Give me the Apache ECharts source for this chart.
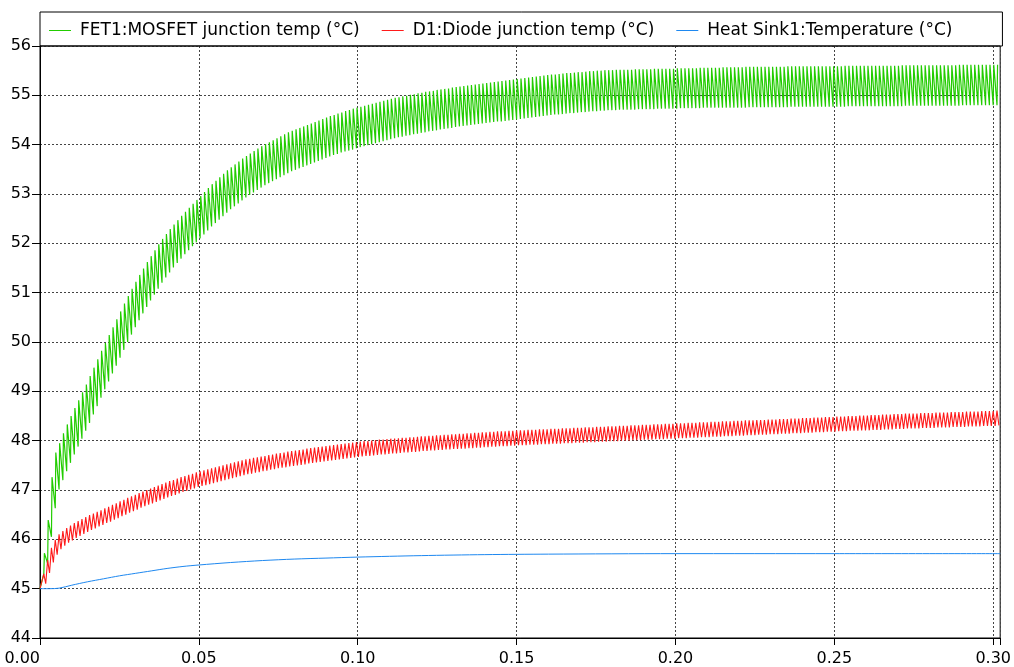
<!DOCTYPE html>
<html>
<head>
<meta charset="utf-8">
<script src="https://cdn.jsdelivr.net/npm/echarts@6/dist/echarts.min.js"></script>
<style>
  html, body { margin: 0; padding: 0; background: #fff; }
  #chart { width: 1014px; height: 667px; }
</style>
</head>
<body>
<div id="chart"></div>
<script>
// switching period of the simulation (s); one high/low pair per cycle
const PERIOD = 0.0012

const seriesNames = [
  'FET1:MOSFET junction temp (°C)',
  'D1:Diode junction temp (°C)',
  'Heat Sink1:Temperature (°C)'
]

// FET1 junction temp: value just before each turn-on, and peak right after it
const fetLow = [
  45.00, 45.30, 45.51, 46.05, 46.63, 47.01, 47.20, 47.38, 47.55, 47.72, 47.88, 48.04,
  48.20, 48.36, 48.53, 48.70, 48.87, 49.04, 49.20, 49.36, 49.52, 49.68, 49.84, 50.00,
  50.15, 50.30, 50.44, 50.58, 50.71, 50.84, 50.96, 51.08, 51.20, 51.31, 51.41, 51.51,
  51.60, 51.69, 51.78, 51.86, 51.94, 52.02, 52.10, 52.18, 52.26, 52.34, 52.41, 52.48,
  52.55, 52.62, 52.69, 52.75, 52.81, 52.87, 52.93, 52.98, 53.03, 53.08, 53.13, 53.18,
  53.22, 53.26, 53.30, 53.34, 53.38, 53.42, 53.46, 53.49, 53.52, 53.55, 53.58, 53.61,
  53.64, 53.67, 53.70, 53.73, 53.76, 53.79, 53.81, 53.84, 53.86, 53.88, 53.90, 53.93,
  53.95, 53.97, 53.99, 54.01, 54.03, 54.05, 54.07, 54.09, 54.11, 54.13, 54.15, 54.16,
  54.18, 54.19, 54.21, 54.22, 54.24, 54.25, 54.27, 54.28, 54.29, 54.31, 54.32, 54.33,
  54.34, 54.36, 54.37, 54.38, 54.39, 54.40, 54.41, 54.42, 54.43, 54.44, 54.45, 54.46,
  54.47, 54.47, 54.48, 54.49, 54.50, 54.51, 54.52, 54.53, 54.54, 54.55, 54.56, 54.57,
  54.58, 54.59, 54.60, 54.61, 54.61, 54.62, 54.63, 54.64, 54.64, 54.65, 54.66, 54.66,
  54.67, 54.68, 54.68, 54.69, 54.69, 54.70, 54.70, 54.70, 54.71, 54.71, 54.71, 54.71,
  54.71, 54.72, 54.72, 54.72, 54.72, 54.72, 54.73, 54.73, 54.73, 54.73, 54.73, 54.73,
  54.74, 54.74, 54.74, 54.74, 54.74, 54.74, 54.75, 54.75, 54.75, 54.75, 54.75, 54.75,
  54.75, 54.75, 54.75, 54.75, 54.75, 54.75, 54.76, 54.76, 54.76, 54.76, 54.76, 54.76,
  54.76, 54.76, 54.76, 54.76, 54.76, 54.77, 54.77, 54.77, 54.77, 54.77, 54.77, 54.77,
  54.77, 54.77, 54.77, 54.77, 54.77, 54.77, 54.77, 54.77, 54.78, 54.78, 54.78, 54.78,
  54.78, 54.78, 54.78, 54.78, 54.78, 54.78, 54.78, 54.78, 54.78, 54.78, 54.78, 54.79,
  54.79, 54.79, 54.79, 54.79, 54.79, 54.79, 54.79, 54.79, 54.79, 54.79, 54.79, 54.79,
  54.79, 54.79, 54.80, 54.80, 54.80, 54.80, 54.80, 54.80, 54.80, 54.80, 54.80, 54.80
]
const fetHigh = [
  45.00, 45.72, 46.39, 47.26, 47.76, 47.95, 48.15, 48.33, 48.50, 48.66, 48.82, 48.98,
  49.14, 49.31, 49.48, 49.65, 49.82, 49.98, 50.14, 50.30, 50.46, 50.62, 50.78, 50.93,
  51.08, 51.22, 51.36, 51.49, 51.62, 51.74, 51.86, 51.98, 52.09, 52.19, 52.29, 52.38,
  52.47, 52.56, 52.64, 52.72, 52.80, 52.88, 52.96, 53.04, 53.12, 53.20, 53.27, 53.34,
  53.41, 53.48, 53.54, 53.60, 53.66, 53.72, 53.77, 53.82, 53.87, 53.92, 53.97, 54.01,
  54.05, 54.09, 54.13, 54.17, 54.21, 54.25, 54.28, 54.31, 54.34, 54.37, 54.40, 54.43,
  54.46, 54.49, 54.52, 54.55, 54.58, 54.60, 54.63, 54.65, 54.68, 54.70, 54.73, 54.75,
  54.77, 54.79, 54.81, 54.83, 54.85, 54.87, 54.89, 54.91, 54.93, 54.95, 54.96, 54.98,
  54.99, 55.01, 55.02, 55.04, 55.05, 55.07, 55.08, 55.09, 55.11, 55.12, 55.13, 55.14,
  55.16, 55.17, 55.18, 55.19, 55.20, 55.21, 55.22, 55.23, 55.24, 55.25, 55.26, 55.27,
  55.28, 55.29, 55.30, 55.31, 55.32, 55.33, 55.34, 55.35, 55.36, 55.37, 55.38, 55.39,
  55.40, 55.41, 55.42, 55.42, 55.43, 55.44, 55.45, 55.45, 55.46, 55.47, 55.47, 55.48,
  55.49, 55.49, 55.50, 55.50, 55.51, 55.51, 55.51, 55.52, 55.52, 55.52, 55.52, 55.52,
  55.53, 55.53, 55.53, 55.53, 55.53, 55.54, 55.54, 55.54, 55.54, 55.54, 55.54, 55.55,
  55.55, 55.55, 55.55, 55.55, 55.55, 55.56, 55.56, 55.56, 55.56, 55.56, 55.56, 55.57,
  55.57, 55.57, 55.57, 55.57, 55.57, 55.58, 55.58, 55.58, 55.58, 55.58, 55.58, 55.58,
  55.58, 55.58, 55.58, 55.58, 55.59, 55.59, 55.59, 55.59, 55.59, 55.59, 55.59, 55.59,
  55.59, 55.59, 55.59, 55.59, 55.59, 55.59, 55.59, 55.60, 55.60, 55.60, 55.60, 55.60,
  55.60, 55.60, 55.60, 55.60, 55.60, 55.60, 55.60, 55.60, 55.60, 55.60, 55.61, 55.61,
  55.61, 55.61, 55.61, 55.61, 55.61, 55.61, 55.61, 55.61, 55.61, 55.61, 55.61, 55.61,
  55.61, 55.62, 55.62, 55.62, 55.62, 55.62, 55.62, 55.62, 55.62, 55.62, 55.62, 55.62
]

// D1 junction temp: peak at each turn-on, trough half a cycle later
const diodeHigh = [
  45.00, 45.30, 45.58, 45.83, 45.99, 46.10, 46.17, 46.23, 46.28, 46.33, 46.37, 46.41,
  46.45, 46.49, 46.52, 46.56, 46.59, 46.63, 46.66, 46.70, 46.73, 46.77, 46.80, 46.84,
  46.87, 46.90, 46.94, 46.97, 47.00, 47.03, 47.06, 47.09, 47.12, 47.15, 47.18, 47.20,
  47.23, 47.26, 47.28, 47.31, 47.33, 47.36, 47.38, 47.40, 47.42, 47.44, 47.46, 47.48,
  47.50, 47.52, 47.54, 47.56, 47.58, 47.60, 47.62, 47.63, 47.65, 47.66, 47.68, 47.69,
  47.71, 47.72, 47.74, 47.75, 47.76, 47.78, 47.79, 47.80, 47.81, 47.82, 47.84, 47.85,
  47.86, 47.87, 47.88, 47.89, 47.90, 47.91, 47.92, 47.93, 47.94, 47.95, 47.96, 47.97,
  47.98, 47.99, 47.99, 48.00, 48.01, 48.02, 48.02, 48.03, 48.04, 48.04, 48.05, 48.06,
  48.06, 48.07, 48.07, 48.08, 48.09, 48.09, 48.10, 48.10, 48.11, 48.11, 48.12, 48.12,
  48.13, 48.13, 48.14, 48.14, 48.15, 48.15, 48.16, 48.16, 48.17, 48.17, 48.18, 48.18,
  48.19, 48.19, 48.19, 48.20, 48.20, 48.21, 48.21, 48.21, 48.22, 48.22, 48.22, 48.23,
  48.23, 48.23, 48.24, 48.24, 48.24, 48.25, 48.25, 48.25, 48.26, 48.26, 48.26, 48.27,
  48.27, 48.27, 48.28, 48.28, 48.28, 48.29, 48.29, 48.29, 48.30, 48.30, 48.30, 48.31,
  48.31, 48.31, 48.32, 48.32, 48.32, 48.33, 48.33, 48.33, 48.34, 48.34, 48.34, 48.35,
  48.35, 48.35, 48.36, 48.36, 48.36, 48.37, 48.37, 48.37, 48.38, 48.38, 48.38, 48.39,
  48.39, 48.39, 48.40, 48.40, 48.40, 48.41, 48.41, 48.41, 48.42, 48.42, 48.42, 48.43,
  48.43, 48.43, 48.44, 48.44, 48.44, 48.45, 48.45, 48.45, 48.46, 48.46, 48.46, 48.47,
  48.47, 48.47, 48.48, 48.48, 48.48, 48.49, 48.49, 48.49, 48.50, 48.50, 48.50, 48.51,
  48.51, 48.51, 48.52, 48.52, 48.52, 48.53, 48.53, 48.53, 48.54, 48.54, 48.54, 48.55,
  48.55, 48.55, 48.55, 48.56, 48.56, 48.56, 48.56, 48.57, 48.57, 48.57, 48.57, 48.58,
  48.58, 48.58, 48.58, 48.59, 48.59, 48.59, 48.59, 48.60, 48.60, 48.60, 48.60, 48.61
]
const diodeLow = [
  45.00, 45.10, 45.32, 45.53, 45.69, 45.80, 45.87, 45.93, 45.98, 46.03, 46.07, 46.11,
  46.15, 46.19, 46.22, 46.26, 46.29, 46.33, 46.36, 46.40, 46.43, 46.47, 46.50, 46.54,
  46.57, 46.60, 46.64, 46.67, 46.70, 46.73, 46.76, 46.79, 46.82, 46.85, 46.88, 46.90,
  46.93, 46.96, 46.98, 47.01, 47.03, 47.06, 47.08, 47.10, 47.12, 47.14, 47.16, 47.18,
  47.20, 47.22, 47.24, 47.26, 47.28, 47.30, 47.32, 47.33, 47.35, 47.36, 47.38, 47.39,
  47.41, 47.42, 47.44, 47.45, 47.46, 47.48, 47.49, 47.50, 47.51, 47.52, 47.54, 47.55,
  47.56, 47.57, 47.58, 47.59, 47.60, 47.61, 47.62, 47.63, 47.64, 47.65, 47.66, 47.67,
  47.68, 47.69, 47.69, 47.70, 47.71, 47.72, 47.72, 47.73, 47.74, 47.74, 47.75, 47.76,
  47.76, 47.77, 47.77, 47.78, 47.79, 47.79, 47.80, 47.80, 47.81, 47.81, 47.82, 47.82,
  47.83, 47.83, 47.84, 47.84, 47.85, 47.85, 47.86, 47.86, 47.87, 47.87, 47.88, 47.88,
  47.89, 47.89, 47.89, 47.90, 47.90, 47.91, 47.91, 47.91, 47.92, 47.92, 47.92, 47.93,
  47.93, 47.93, 47.94, 47.94, 47.94, 47.95, 47.95, 47.95, 47.96, 47.96, 47.96, 47.97,
  47.97, 47.97, 47.98, 47.98, 47.98, 47.99, 47.99, 47.99, 48.00, 48.00, 48.00, 48.01,
  48.01, 48.01, 48.02, 48.02, 48.02, 48.03, 48.03, 48.03, 48.04, 48.04, 48.04, 48.05,
  48.05, 48.05, 48.06, 48.06, 48.06, 48.07, 48.07, 48.07, 48.08, 48.08, 48.08, 48.09,
  48.09, 48.09, 48.10, 48.10, 48.10, 48.11, 48.11, 48.11, 48.12, 48.12, 48.12, 48.13,
  48.13, 48.13, 48.14, 48.14, 48.14, 48.15, 48.15, 48.15, 48.16, 48.16, 48.16, 48.17,
  48.17, 48.17, 48.18, 48.18, 48.18, 48.19, 48.19, 48.19, 48.20, 48.20, 48.20, 48.21,
  48.21, 48.21, 48.22, 48.22, 48.22, 48.23, 48.23, 48.23, 48.24, 48.24, 48.24, 48.25,
  48.25, 48.25, 48.25, 48.26, 48.26, 48.26, 48.26, 48.27, 48.27, 48.27, 48.27, 48.28,
  48.28, 48.28, 48.28, 48.29, 48.29, 48.29, 48.29, 48.30, 48.30, 48.30, 48.30, 48.31
]

// Heat sink temperature (smooth)
const sinkTime = [0, 0.003, 0.006, 0.010, 0.015, 0.020, 0.025, 0.030, 0.035, 0.040, 0.045, 0.050,
  0.060, 0.070, 0.080, 0.090, 0.100, 0.120, 0.140, 0.160, 0.200, 0.250, 0.3022]
const sinkTemp = [45.00, 45.00, 45.01, 45.07, 45.14, 45.20, 45.26, 45.31, 45.36, 45.41, 45.45, 45.48,
  45.53, 45.57, 45.60, 45.62, 45.64, 45.67, 45.69, 45.70, 45.71, 45.71, 45.71]

const xTicks = { min: 0, max: 0.3022, step: 0.05 }
const yTicks = { min: 44, max: 56, step: 1 }

// build [t, value] pairs for the oscillating traces
const fetData = []
fetLow.forEach((v, k) => {
  fetData.push([k * PERIOD, v])
  fetData.push([k * PERIOD + 0.15 * PERIOD, fetHigh[k]])
})
const diodeData = []
diodeHigh.forEach((v, k) => {
  diodeData.push([k * PERIOD, v])
  diodeData.push([k * PERIOD + 0.5 * PERIOD, diodeLow[k]])
})
const sinkData = sinkTime.map((t, i) => [t, sinkTemp[i]])

const FONT = 'DejaVu Sans'
const dotted = { color: '#444', type: [2, 2], width: 1 }

const chart = echarts.init(document.getElementById('chart'), null, { renderer: 'canvas' })
chart.setOption({
  animation: false,
  backgroundColor: '#fff',
  color: ['#22cc00', '#ff1a1a', '#1e88f0'],
  legend: {
    left: 40,
    top: 12,
    padding: [10, 50, 7, 9],
    borderColor: '#000',
    borderWidth: 1,
    itemGap: 22,
    itemWidth: 22,
    itemHeight: 1,
    icon: 'rect',
    textStyle: { fontFamily: FONT, fontSize: 17, color: '#000', padding: [0, 0, 0, 4] },
    data: seriesNames
  },
  grid: {
    left: 40, right: 13, top: 46, bottom: 29,
    show: true, borderColor: '#000', borderWidth: 1
  },
  xAxis: {
    type: 'value',
    min: xTicks.min,
    max: xTicks.max,
    interval: xTicks.step,
    axisLine: { lineStyle: { color: '#000' } },
    axisTick: { length: 7, lineStyle: { color: '#000' } },
    axisLabel: {
      color: '#000', fontFamily: FONT, fontSize: 16, margin: 13,
      alignMinLabel: 'right',
      formatter: (v) => {
        const r = v / xTicks.step
        return Math.abs(r - Math.round(r)) < 1e-6 ? v.toFixed(2) : ''
      }
    },
    splitLine: { show: true, lineStyle: dotted }
  },
  yAxis: {
    type: 'value',
    min: yTicks.min,
    max: yTicks.max,
    interval: yTicks.step,
    axisLine: { show: true, lineStyle: { color: '#000' } },
    axisTick: { show: true, length: 8, lineStyle: { color: '#000' } },
    axisLabel: { color: '#000', fontFamily: FONT, fontSize: 16, margin: 9 },
    splitLine: { show: true, lineStyle: dotted }
  },
  series: [
    { name: seriesNames[0], type: 'line', data: fetData, showSymbol: false, symbol: 'none',
      lineStyle: { width: 1.2 } },
    { name: seriesNames[1], type: 'line', data: diodeData, showSymbol: false, symbol: 'none',
      lineStyle: { width: 1.1 } },
    { name: seriesNames[2], type: 'line', data: sinkData, showSymbol: false, symbol: 'none',
      smooth: 0.3, lineStyle: { width: 1 } }
  ]
})
</script>
</body>
</html>
